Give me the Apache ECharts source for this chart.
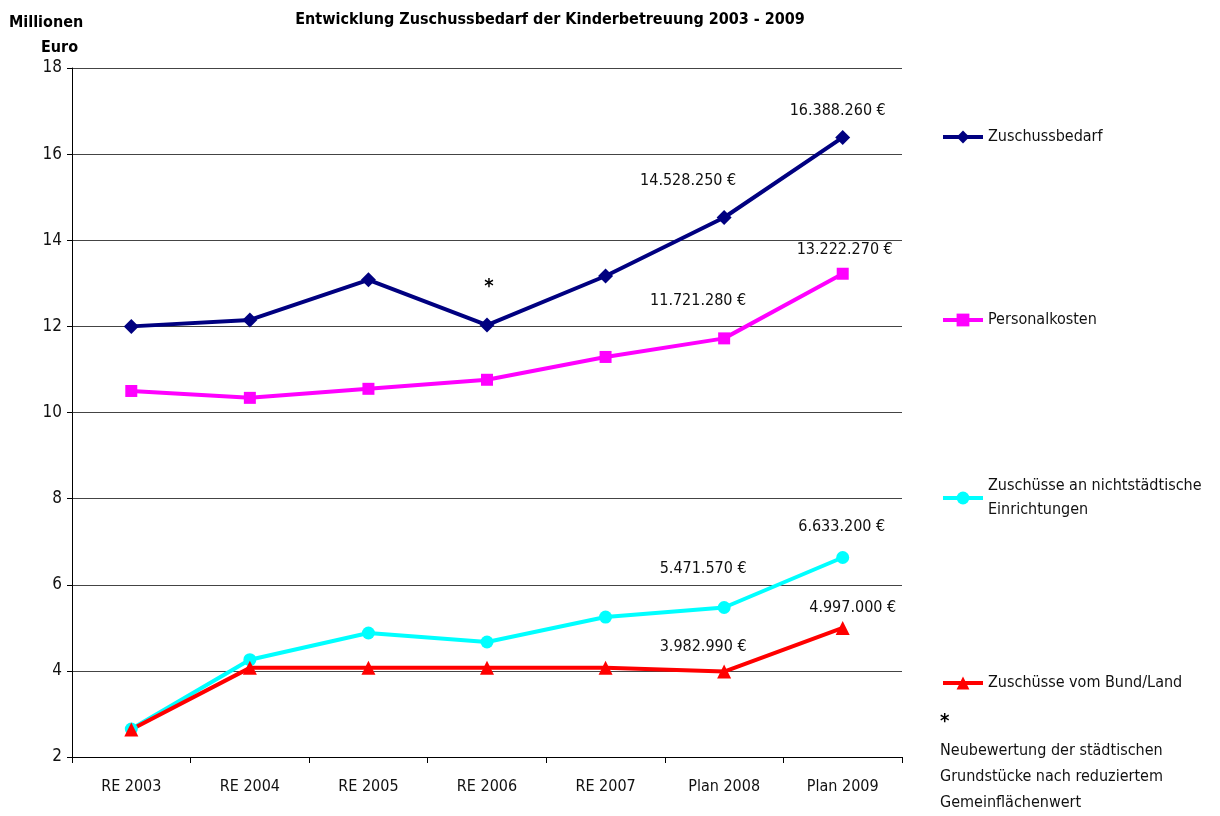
<!DOCTYPE html>
<html>
<head>
<meta charset="utf-8">
<script src="https://cdn.jsdelivr.net/npm/echarts@6/dist/echarts.min.js"></script>
<style>
html,body{margin:0;padding:0;background:#fff;}
#chart{width:1220px;height:816px;}
</style>
</head>
<body>
<div id="chart"></div>
<script>
var categories = ['RE 2003','RE 2004','RE 2005','RE 2006','RE 2007','Plan 2008','Plan 2009'];
var zuschussbedarf = [12.00, 12.15, 13.08, 12.03, 13.17, 14.52825, 16.38826];
var personalkosten = [10.50, 10.34, 10.55, 10.76, 11.29, 11.72128, 13.22227];
var zuschuesseNicht = [2.65, 4.26, 4.88, 4.67, 5.25, 5.47157, 6.6332];
var zuschuesseBund = [2.64, 4.07, 4.07, 4.07, 4.07, 3.98299, 4.997];
var yTicks = {min: 2, max: 18, interval: 2};
var FONT = '"DejaVu Sans Condensed","DejaVu Sans",sans-serif';

function euro(v){
  var n = Math.round(v*1e6).toString();
  var out = '';
  while(n.length > 3){ out = '.' + n.slice(-3) + out; n = n.slice(0, -3); }
  return n + out + ' €';
}
function withLabels(vals, offsets, extra){
  return vals.map(function(v, i){
    var item = {value: v};
    if (offsets[i]) {
      item.label = {show: true, position: 'top', distance: 5, offset: offsets[i],
        formatter: euro(v), color: '#111', fontSize: 16, fontFamily: FONT};
    }
    if (extra && extra[i]) item.label = extra[i];
    return item;
  });
}

var chart = echarts.init(document.getElementById('chart'));
var lineW = 4;
function legendOf(name, top, extraText){
  var ts = {fontSize: 16, color: '#111', fontFamily: FONT};
  if (extraText) { for (var k in extraText) ts[k] = extraText[k]; }
  return {data: [name], left: 941, top: top, orient: 'vertical', padding: 0,
    itemWidth: 40, itemHeight: 16, itemGap: 4,
    lineStyle: {width: 4}, textStyle: ts};
}
var lgNicht = legendOf('Zuschüsse an nichtstädtische Einrichtungen', 462, {lineHeight: 24, padding: [24, 0, 0, 0]});
lgNicht.formatter = function(){ return 'Zuschüsse an nichtstädtische\nEinrichtungen'; };

var option = {
  backgroundColor: '#fff',
  animation: false,
  textStyle: {fontFamily: FONT},
  title: [
    {text: 'Entwicklung Zuschussbedarf der Kinderbetreuung 2003 - 2009', left: 545, textAlign: 'center', top: 7,
     textStyle: {fontSize: 16, fontWeight: 'bold', color: '#000', fontFamily: FONT}},
    {text: 'Millionen', left: 4, top: 10, textStyle: {fontSize: 16, fontWeight: 'bold', color: '#000', fontFamily: FONT}},
    {text: 'Euro', left: 36, top: 35, textStyle: {fontSize: 16, fontWeight: 'bold', color: '#000', fontFamily: FONT}}
  ],
  grid: {left: 72, right: 318, top: 68, bottom: 59, containLabel: false},
  xAxis: {
    type: 'category', data: categories, boundaryGap: true,
    axisLine: {lineStyle: {color: '#000', width: 1}},
    axisTick: {show: true, length: 6, inside: false, lineStyle: {color: '#000'}},
    axisLabel: {color: '#111', fontSize: 16, margin: 22, fontFamily: FONT}
  },
  yAxis: {
    type: 'value', min: yTicks.min, max: yTicks.max, interval: yTicks.interval,
    axisLine: {show: true, lineStyle: {color: '#000'}},
    axisTick: {show: true, length: 5, lineStyle: {color: '#000'}},
    axisLabel: {color: '#111', fontSize: 17, margin: 10, fontFamily: FONT},
    splitLine: {show: true, lineStyle: {color: '#444', width: 1}}
  },
  legend: [
    legendOf('Zuschussbedarf', 129),
    legendOf('Personalkosten', 312),
    lgNicht,
    legendOf('Zuschüsse vom Bund/Land', 675)
  ],
  graphic: [
    {type: 'text', left: 940, top: 712, style: {text: '*', fill: '#000', font: 'bold 20px ' + FONT}},
    {type: 'text', left: 940, top: 738, style: {text: 'Neubewertung der städtischen\nGrundstücke nach reduziertem\nGemeinflächenwert',
      fill: '#111', font: '16px ' + FONT, lineHeight: 26}}
  ],
  series: [
    {name: 'Zuschussbedarf', type: 'line', symbol: 'diamond', symbolSize: 15,
     itemStyle: {color: '#000080'}, lineStyle: {color: '#000080', width: lineW},
     data: withLabels(zuschussbedarf, {5: [-36, -16], 6: [-5, -6]},
       {3: {show: true, position: 'top', distance: 5, offset: [2, -16], formatter: '*', color: '#000', fontSize: 20, fontWeight: 'bold', fontFamily: FONT}})},
    {name: 'Personalkosten', type: 'line', symbol: 'rect', symbolSize: 12,
     itemStyle: {color: '#ff00ff'}, lineStyle: {color: '#ff00ff', width: lineW},
     data: withLabels(personalkosten, {5: [-26, -19], 6: [2, -5]})},
    {name: 'Zuschüsse an nichtstädtische Einrichtungen', type: 'line', symbol: 'circle', symbolSize: 13,
     itemStyle: {color: '#00ffff'}, lineStyle: {color: '#00ffff', width: lineW},
     data: withLabels(zuschuesseNicht, {5: [-21, -19], 6: [-1, -11]})},
    {name: 'Zuschüsse vom Bund/Land', type: 'line', symbol: 'triangle', symbolSize: 14,
     itemStyle: {color: '#ff0000'}, lineStyle: {color: '#ff0000', width: lineW},
     data: withLabels(zuschuesseBund, {5: [-21, -5], 6: [10, 0]})}
  ]
};
chart.setOption(option);
</script>
</body>
</html>
